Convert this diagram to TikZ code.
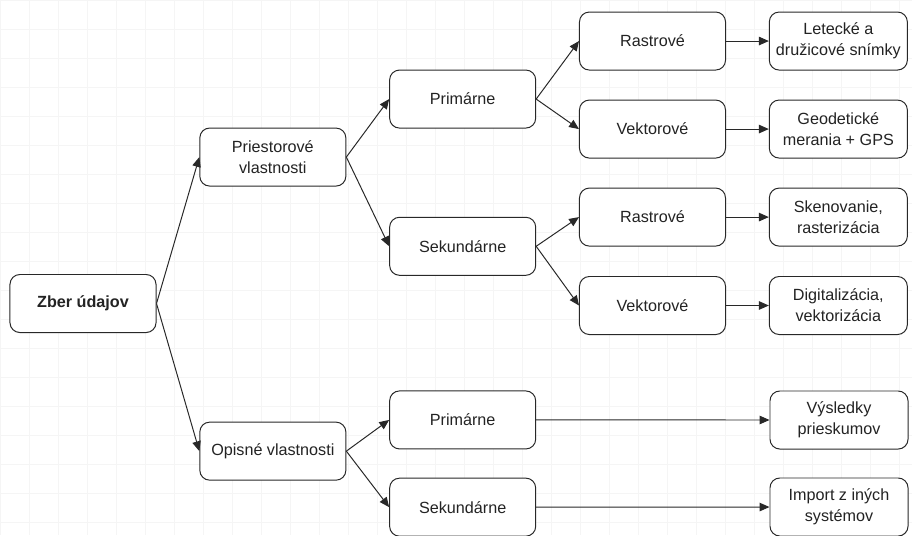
\documentclass[tikz,border=0pt]{standalone}
\usepackage{fontspec}
\setmainfont{Liberation Sans}
\usepackage{tikz}
\usetikzlibrary{arrows.meta,positioning}
\definecolor{myline}{RGB}{40,40,40}
\definecolor{mytext}{RGB}{35,35,35}
\definecolor{mygrid}{RGB}{245,245,245}

\begin{document}
\begin{tikzpicture}[x=0.025cm,y=-0.025cm,
    box/.style={draw=myline,line width=0.7pt,fill=white,rounded corners=7pt,minimum width=3.65cm,minimum height=1.45cm,align=center,inner sep=1pt,text=mytext,font=\fontsize{11.5}{15}\selectfont},
    endbox/.style={box,minimum width=3.45cm},
    link/.style={-{Triangle[length=7pt,width=6pt]},line width=0.7pt,myline}]
        \useasboundingbox (0,0) rectangle (912,535);
        \fill[white] (0,0) rectangle (912,535);
        \draw[mygrid,line width=0.5pt,step=0.725cm] (0,0) grid (912,535);
        % root
        \node[box] (zber) at (83,303.5) {\textbf{Zber údajov}};
        % properties
        \node[box,right=1.07cm of zber,yshift=3.66cm] (priest) {Priestorové\\vlastnosti};
        \node[box,right=1.07cm of zber,yshift=-3.69cm] (opis) {Opisné vlastnosti};
        % primary / secondary
        \node[box,right=1.07cm of priest,yshift=1.45cm] (prim1) {Primárne};
        \node[box,right=1.07cm of priest,yshift=-2.23cm] (sek1) {Sekundárne};
        \node[box,right=1.07cm of opis,yshift=0.78cm] (prim2) {Primárne};
        \node[box,right=1.07cm of opis,yshift=-1.4cm] (sek2) {Sekundárne};
        % raster / vector
        \node[box,right=1.07cm of prim1,yshift=1.45cm] (rast1) {Rastrové};
        \node[box,right=1.07cm of prim1,yshift=-0.75cm] (vekt1) {Vektorové};
        \node[box,right=1.07cm of sek1,yshift=0.73cm] (rast2) {Rastrové};
        \node[box,right=1.07cm of sek1,yshift=-1.48cm] (vekt2) {Vektorové};
        % sources
        \node[endbox,right=1.07cm of rast1] (let) {Letecké a\\družicové snímky};
        \node[endbox,right=1.07cm of vekt1] (geo) {Geodetické\\merania + GPS};
        \node[endbox,right=1.07cm of rast2] (sken) {Skenovanie,\\rasterizácia};
        \node[endbox,right=1.07cm of vekt2] (dig) {Digitalizácia,\\vektorizácia};
        \node[endbox] (vys) at (839,420) {Výsledky\\prieskumov};
        \node[endbox] (imp) at (839,507) {Import z iných\\systémov};
        % connectors
        \draw[link] (zber.east) -- (priest.west);
        \draw[link] (zber.east) -- (opis.west);
        \draw[link] (priest.east) -- (prim1.west);
        \draw[link] (priest.east) -- (sek1.west);
        \draw[link] (opis.east) -- (prim2.west);
        \draw[link] (opis.east) -- (sek2.west);
        \draw[link] (prim1.east) -- (rast1.west);
        \draw[link] (prim1.east) -- (vekt1.west);
        \draw[link] (sek1.east) -- (rast2.west);
        \draw[link] (sek1.east) -- (vekt2.west);
        \draw[link] (rast1) -- (let);
        \draw[link] (vekt1) -- (geo);
        \draw[link] (rast2) -- (sken);
        \draw[link] (vekt2) -- (dig);
        \draw[link] (prim2) -- (vys);
        \draw[link] (sek2) -- (imp);
      \end{tikzpicture}
\end{document}
